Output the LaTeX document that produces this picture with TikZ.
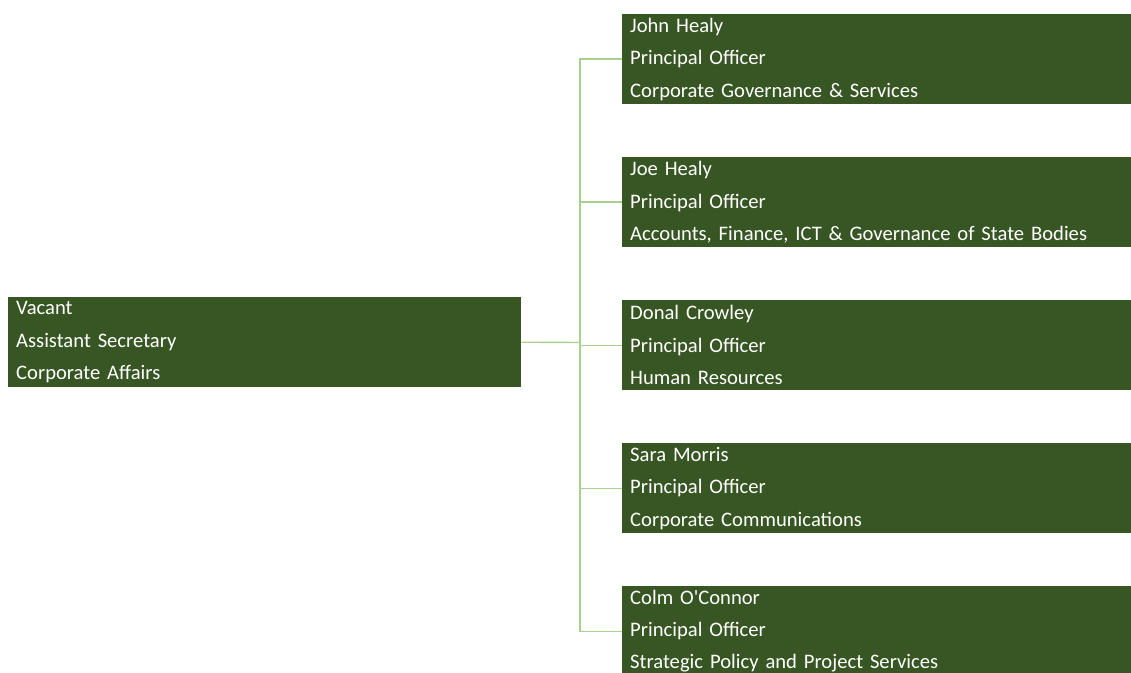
\documentclass[tikz,border=0pt]{standalone}
\usepackage{fontspec}
\setmainfont{Carlito}
\definecolor{boxgreen}{HTML}{375623}
\definecolor{linkgreen}{HTML}{A9D08E}
\begin{document}
\begin{tikzpicture}[x=1bp,y={(0,-1bp)},
  post/.style={anchor=north west, fill=boxgreen, text=white, draw=none,
    minimum width=513bp, minimum height=90bp, text width=497bp,
    inner xsep=8bp, inner ysep=0bp, align=left,
    font=\fontsize{20.7}{32.5}\selectfont},
  link/.style={draw=linkgreen, line width=1.4bp}]
\useasboundingbox (0,0) rectangle (1131,673);

\node[post] (lead) at (8,297) {Vacant\\Assistant Secretary\\Corporate Affairs};

\node[post] (p1) at (622,14)  {John Healy\\Principal Officer\\Corporate Governance \& Services};
\node[post] (p2) at (622,157) {Joe Healy\\Principal Officer\\Accounts, Finance, ICT \& Governance of State Bodies};
\node[post] (p3) at (622,300) {Donal Crowley\\Principal Officer\\Human Resources};
\node[post] (p4) at (622,443) {Sara Morris\\Principal Officer\\Corporate Communications};
\node[post] (p5) at (622,586) {Colm O\textquotesingle Connor\\Principal Officer\\Strategic Policy and Project Services};

\coordinate (bus) at (580,342.5);
\draw[link] (lead.east) -- (bus);
\foreach \p in {p1,p2,p3,p4,p5}
  \draw[link] (\p.west) -| (bus);
\end{tikzpicture}
\end{document}
